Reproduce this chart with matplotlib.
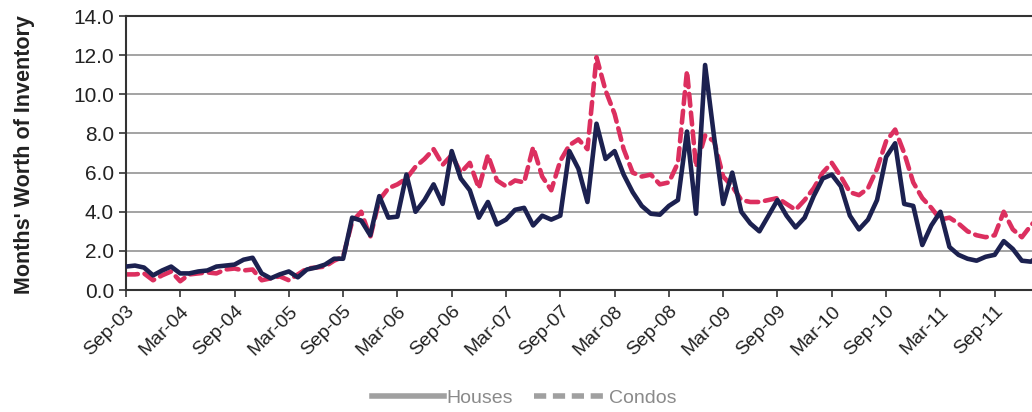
import matplotlib
matplotlib.use('Agg')
import matplotlib.pyplot as plt
import pandas as pd

# monthly months' worth of inventory, starting Sep-03
houses = [1.2, 1.25, 1.15, 0.75, 1.0, 1.2, 0.85, 0.85, 0.95, 1.0, 1.2, 1.25,
          1.3, 1.55, 1.65, 0.85, 0.6, 0.8, 0.95, 0.65, 1.05, 1.15, 1.3, 1.6,
          1.6, 3.7, 3.55, 2.8, 4.8, 3.7, 3.75, 5.9, 4.0, 4.6, 5.4, 4.4,
          7.1, 5.7, 5.1, 3.7, 4.5, 3.35, 3.6, 4.1, 4.2, 3.3, 3.8, 3.6,
          3.8, 7.1, 6.2, 4.5, 8.5, 6.7, 7.1, 5.9, 5.0, 4.3, 3.9, 3.85,
          4.3, 4.6, 8.1, 3.9, 11.5, 7.8, 4.4, 6.0, 4.0, 3.4, 3.0, 3.8,
          4.6, 3.8, 3.2, 3.7, 4.8, 5.7, 5.9, 5.3, 3.8, 3.1, 3.6, 4.6,
          6.8, 7.5, 4.4, 4.3, 2.3, 3.3, 4.0, 2.2, 1.8, 1.6, 1.5, 1.7,
          1.8, 2.5, 2.1, 1.5, 1.45, 1.8]
condos = [0.8, 0.8, 0.85, 0.5, 0.75, 0.95, 0.45, 0.8, 0.85, 0.9, 0.85, 1.05,
          1.1, 1.0, 1.05, 0.5, 0.6, 0.7, 0.5, 0.8, 1.1, 1.15, 1.2, 1.5,
          1.7, 3.5, 4.0, 2.7, 4.6, 5.2, 5.4, 5.7, 6.3, 6.7, 7.2, 6.4,
          6.9, 6.0, 6.5, 5.2, 6.9, 5.6, 5.3, 5.6, 5.5, 7.3, 5.8, 5.1,
          6.6, 7.4, 7.7, 7.2, 11.9, 10.2, 9.0, 7.2, 6.0, 5.8, 5.9, 5.4,
          5.5, 6.5, 11.2, 6.3, 7.9, 7.6, 5.8, 5.3, 4.6, 4.5, 4.5, 4.6,
          4.7, 4.4, 4.1, 4.6, 5.2, 6.0, 6.5, 5.8, 5.0, 4.85, 5.2, 6.2,
          7.6, 8.2, 7.0, 5.5, 4.7, 4.2, 3.6, 3.7, 3.4, 3.0, 2.8, 2.7,
          2.8, 4.0, 3.1, 2.7, 3.3, 3.8]
months = pd.date_range('2003-09-01', periods=len(houses), freq='MS')
month_labels = [m.strftime('%b-%y') for m in months]

plt.rcParams['font.family'] = ['Liberation Sans', 'DejaVu Sans']

fig = plt.figure(figsize=(10.32, 4.12), dpi=100)
# axes run past the right edge, as in the cropped original
ax = fig.add_axes([0.122, 0.296, 0.912, 0.665])

x = list(range(len(houses)))
ax.plot(x, houses, color='#1c2150', lw=3.3, solid_joinstyle='round', label='Houses', zorder=3)
ax.plot(x, condos, color='#dc2f5f', lw=3.3, dashes=(2.6, 1.5), dash_capstyle='round',
        label='Condos', zorder=2)

ax.set_xlim(0, 104)
ax.set_ylim(0, 14)
ax.set_yticks([0, 2, 4, 6, 8, 10, 12, 14])
ax.set_yticklabels(['%.1f' % v for v in ax.get_yticks()], fontsize=15, color='#222222')
ax.set_xticks(x[::6])
ax.set_xticklabels(month_labels[::6], rotation=45, ha='right', rotation_mode='anchor',
                   fontsize=14, color='#222222')
ax.tick_params(axis='both', direction='out', length=5, width=1.2, color='#333333')
ax.tick_params(axis='x', pad=4)

ax.grid(axis='y', color='#8a8a8a', lw=1.1)
ax.set_axisbelow(True)
for side in ['left', 'bottom', 'top']:
    ax.spines[side].set_color('#333333')
    ax.spines[side].set_linewidth(1.5)
ax.spines['right'].set_visible(False)

fig.text(0.024, 0.625, "Months' Worth of Inventory", rotation=90, ha='center', va='center',
         fontsize=15.5, fontweight='bold', color='#222222')

leg_h = [plt.Line2D([], [], color='#a0a0a0', lw=4),
         plt.Line2D([], [], color='#a0a0a0', lw=4, dashes=(2.2, 1.2))]
leg = fig.legend(leg_h, ['Houses', 'Condos'], loc='center', bbox_to_anchor=(0.508, 0.034),
                 ncol=2, frameon=False, fontsize=14, handlelength=3.7, handletextpad=0.15,
                 columnspacing=1.1)
for t in leg.get_texts():
    t.set_color('#8a8a8a')

fig.savefig('out.png', dpi=100)
